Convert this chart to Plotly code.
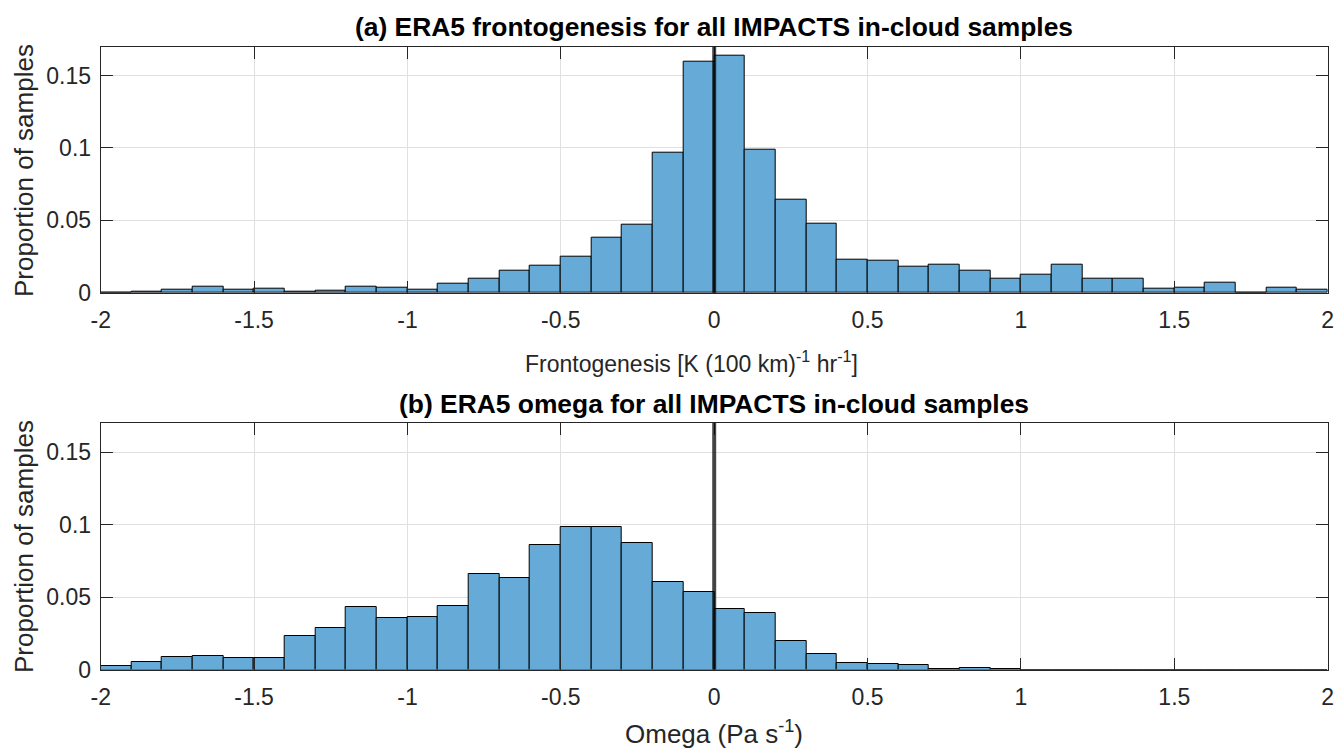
import plotly.graph_objects as go

bin_centers = [-1.95, -1.85, -1.75, -1.65, -1.55, -1.45, -1.35, -1.25, -1.15, -1.05,
               -0.95, -0.85, -0.75, -0.65, -0.55, -0.45, -0.35, -0.25, -0.15, -0.05,
               0.05, 0.15, 0.25, 0.35, 0.45, 0.55, 0.65, 0.75, 0.85, 0.95,
               1.05, 1.15, 1.25, 1.35, 1.45, 1.55, 1.65, 1.75, 1.85, 1.95]
bin_width = 0.1

fronto_prop = [0.0, 0.0009, 0.0021, 0.0042, 0.0023, 0.0028, 0.0009, 0.0014, 0.0044, 0.0037,
               0.0021, 0.0065, 0.0095, 0.0149, 0.0184, 0.0247, 0.0383, 0.0470, 0.0966, 0.1597,
               0.1637, 0.0989, 0.0641, 0.0480, 0.0226, 0.0220, 0.0179, 0.0194, 0.0152, 0.0095,
               0.0124, 0.0194, 0.0099, 0.0097, 0.0030, 0.0035, 0.0069, 0.0002, 0.0035, 0.0021]

omega_prop = [0.0021, 0.0055, 0.0087, 0.0096, 0.0076, 0.0076, 0.0234, 0.0283, 0.0428, 0.0354,
              0.0360, 0.0437, 0.0660, 0.0633, 0.0862, 0.0981, 0.0984, 0.0869, 0.0605, 0.0537,
              0.0417, 0.0392, 0.0200, 0.0107, 0.0048, 0.0041, 0.0028, 0.0002, 0.0007, 0.0001,
              0.0, 0.0, 0.0, 0.0, 0.0, 0.0, 0.0, 0.0, 0.0, 0.0]

x_ticks = [-2, -1.5, -1, -0.5, 0, 0.5, 1, 1.5, 2]
x_ticklabels = ["-2", "-1.5", "-1", "-0.5", "0", "0.5", "1", "1.5", "2"]
y_ticks = [0, 0.05, 0.1, 0.15]
y_ticklabels = ["0", "0.05", "0.1", "0.15"]

title_a = "<b>(a) ERA5 frontogenesis for all IMPACTS in-cloud samples</b>"
title_b = "<b>(b) ERA5 omega for all IMPACTS in-cloud samples</b>"
xlabel_a = "Frontogenesis [K (100 km)<sup>-1</sup> hr<sup>-1</sup>]"
xlabel_b = "Omega (Pa s<sup>-1</sup>)"
ylabel = "Proportion of samples"

W, H = 1336, 749
FONT = "Liberation Sans, Arial, sans-serif"
TXT = "rgb(38,38,38)"
BAR = "rgb(102,170,215)"

fig = go.Figure()
fig.add_trace(go.Bar(x=bin_centers, y=fronto_prop, width=bin_width,
                     marker=dict(color=BAR, line=dict(color="black", width=1)),
                     xaxis="x", yaxis="y", showlegend=False))
fig.add_trace(go.Bar(x=bin_centers, y=omega_prop, width=bin_width,
                     marker=dict(color=BAR, line=dict(color="black", width=1)),
                     xaxis="x2", yaxis="y2", showlegend=False))

xd = [100.7 / W, 1327.7 / W]
yd1 = [1 - 292.7 / H, 1 - 46.7 / H]
yd2 = [1 - 669.5 / H, 1 - 423.0 / H]

ax_common = dict(showline=True, linecolor=TXT, linewidth=1, mirror="ticks",
                 ticks="inside", ticklen=12, tickcolor=TXT, tickwidth=1,
                 showgrid=True, gridcolor="rgb(224,224,224)", gridwidth=1,
                 zeroline=False, automargin=False,
                 tickfont=dict(family=FONT, size=23, color=TXT))

fig.update_layout(
    width=W, height=H, margin=dict(l=0, r=0, t=0, b=0, autoexpand=False),
    paper_bgcolor="white", plot_bgcolor="white", bargap=0,
    xaxis=dict(domain=xd, anchor="y", range=[-2, 2], tickvals=x_ticks,
               ticktext=x_ticklabels, ticklabelstandoff=7, **ax_common),
    yaxis=dict(domain=yd1, anchor="x", range=[0, 0.17], tickvals=y_ticks,
               ticktext=y_ticklabels, ticklabelstandoff=4, **ax_common),
    xaxis2=dict(domain=xd, anchor="y2", range=[-2, 2], tickvals=x_ticks,
                ticktext=x_ticklabels, ticklabelstandoff=7, **ax_common),
    yaxis2=dict(domain=yd2, anchor="x2", range=[0, 0.17], tickvals=y_ticks,
                ticktext=y_ticklabels, ticklabelstandoff=4, **ax_common),
)

for xr, yr in (("x", "y"), ("x2", "y2")):
    fig.add_shape(type="line", xref=xr, yref=yr + " domain", x0=0, x1=0, y0=0, y1=1,
                  line=dict(color="rgba(0,0,0,0.72)", width=4), layer="above")

xc = (xd[0] + xd[1]) / 2
for text, yc in ((title_a, 27), (title_b, 404)):
    fig.add_annotation(text=text, x=xc, y=1 - yc / H, xref="paper", yref="paper",
                       xanchor="center", yanchor="middle", showarrow=False,
                       font=dict(family=FONT, size=26.4, color="black"))

fig.add_annotation(text=xlabel_a, x=523 / W, y=1 - 362 / H, xref="paper", yref="paper",
                   xanchor="left", yanchor="middle", showarrow=False,
                   font=dict(family=FONT, size=23, color=TXT))
fig.add_annotation(text=xlabel_b, x=xc, y=1 - 732 / H, xref="paper", yref="paper",
                   xanchor="center", yanchor="middle", showarrow=False,
                   font=dict(family=FONT, size=26, color=TXT))

for yc in (171, 547):
    fig.add_annotation(text=ylabel, x=24 / W, y=1 - yc / H, xref="paper", yref="paper",
                       xanchor="center", yanchor="middle", showarrow=False, textangle=-90,
                       font=dict(family=FONT, size=26, color=TXT))

fig.write_html("out.html")
